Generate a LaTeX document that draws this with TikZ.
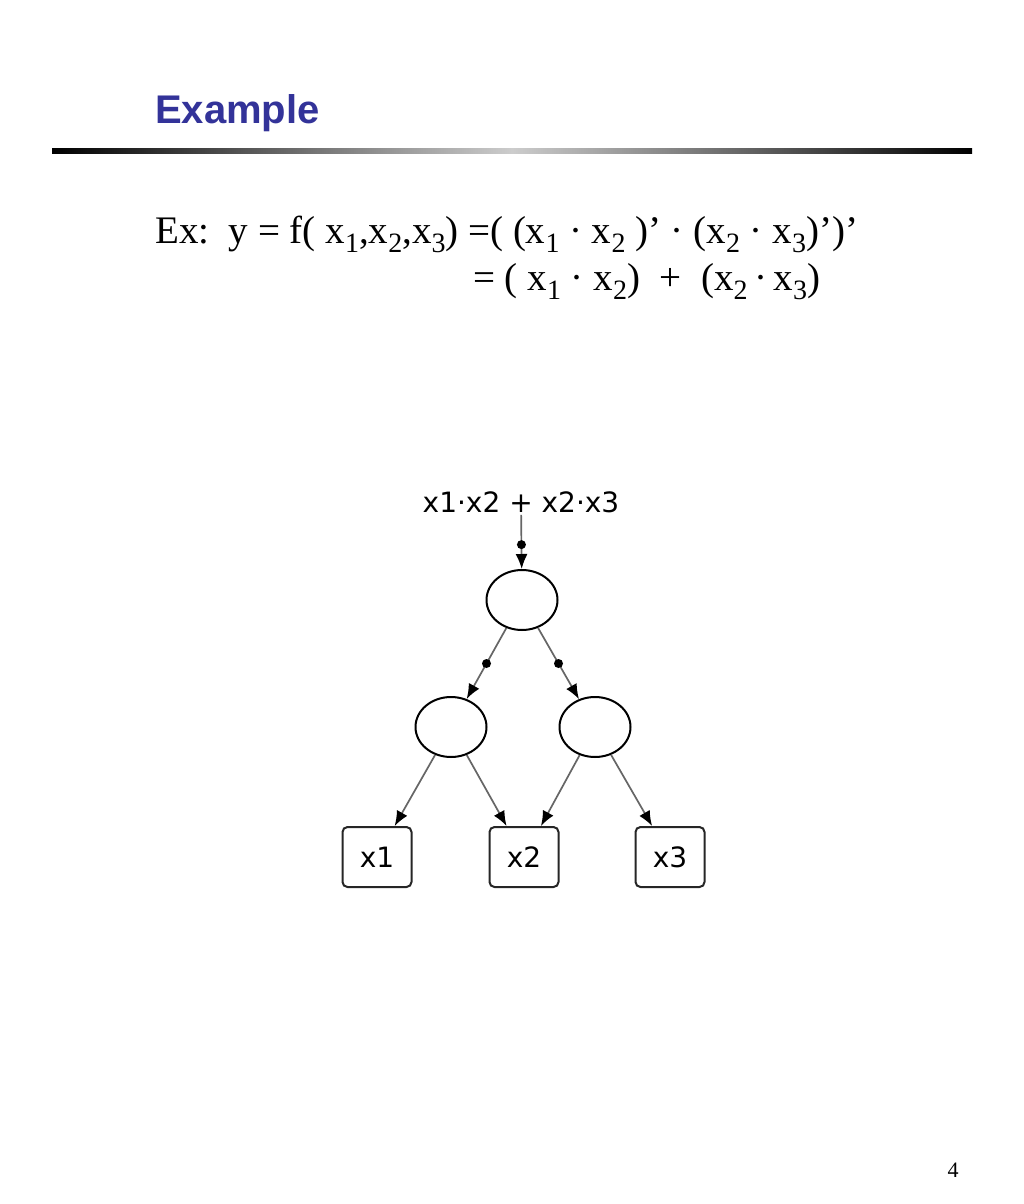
\documentclass[tikz,border=0pt]{standalone}
\usepackage{fontspec}
\setmainfont{Liberation Serif}
\newfontfamily\headfont{Liberation Sans}
\newfontfamily\treefont{DejaVu Sans}
\usetikzlibrary{shapes.geometric,arrows.meta}
\definecolor{titleblue}{RGB}{51,51,153}
\newcommand{\lowsub}[1]{\raisebox{-9pt}{\fontsize{28}{28}\selectfont #1}}

\begin{document}
\begin{tikzpicture}[x=1pt,y=-1pt,
    gate/.style={shape=ellipse,draw=black,line width=2pt,minimum width=71pt,minimum height=60pt,inner sep=0pt},
    leaf/.style={shape=rectangle,draw=black!85,line width=2pt,rounded corners=5pt,minimum width=69pt,minimum height=60pt,font=\treefont\fontsize{28}{28}\selectfont},
    wire/.style={draw=black!60,line width=1.7pt,-{Latex[length=15pt,width=12pt,color=black]}},
    blob/.style={shape=circle,fill=black,inner sep=0pt,minimum size=9pt}]
  \useasboundingbox (0,0) rectangle (1024,1204);
  \fill[white] (0,0) rectangle (1024,1204);

  % heading and rule
  \node[anchor=base west,inner sep=0pt,font=\headfont\bfseries\fontsize{40}{40}\selectfont,text=titleblue] (title) at (155,124) {Example};
  \shade[left color=black,right color=black,middle color=black!20] (52,148) rectangle (972,153);

  % the function
  \node[anchor=base west,inner sep=0pt,font=\fontsize{39}{39}\selectfont] (line1) at (155,243) {Ex:\ \ y = f( x\lowsub{1},x\lowsub{2},x\lowsub{3}) =( (x\lowsub{1} · x\lowsub{2} )’ · (x\lowsub{2} · x\lowsub{3})’)’};
  \node[anchor=base west,inner sep=0pt,font=\fontsize{39}{39}\selectfont] (line2) at (473,290) {= ( x\lowsub{1} · x\lowsub{2}) \ +\ \ (x\lowsub{2}\,·\,x\lowsub{3})};

  % the tree
  \node[font=\treefont\fontsize{28}{28}\selectfont,inner sep=2pt] (out) at (521,502) {x1·x2 + x2·x3};
  \node[gate] (top) at (522,600) {};
  \node[gate] (left) at (451,727) {};
  \node[gate] (right) at (595,727) {};
  \node[leaf] (x1) at (377,857) {x1};
  \node[leaf] (x2) at (524,857) {x2};
  \node[leaf] (x3) at (670,857) {x3};

  \draw[wire] (out) -- node[blob,pos=0.55] {} (top);
  \draw[wire] (top) -- node[blob] {} (left);
  \draw[wire] (top) -- node[blob] {} (right);
  \draw[wire] (left) -- (x1);
  \draw[wire] (left) -- (x2);
  \draw[wire] (right) -- (x2);
  \draw[wire] (right) -- (x3);

  \node[font=\fontsize{22}{22}\selectfont] (page) at (953,1170) {4};
\end{tikzpicture}
\end{document}
